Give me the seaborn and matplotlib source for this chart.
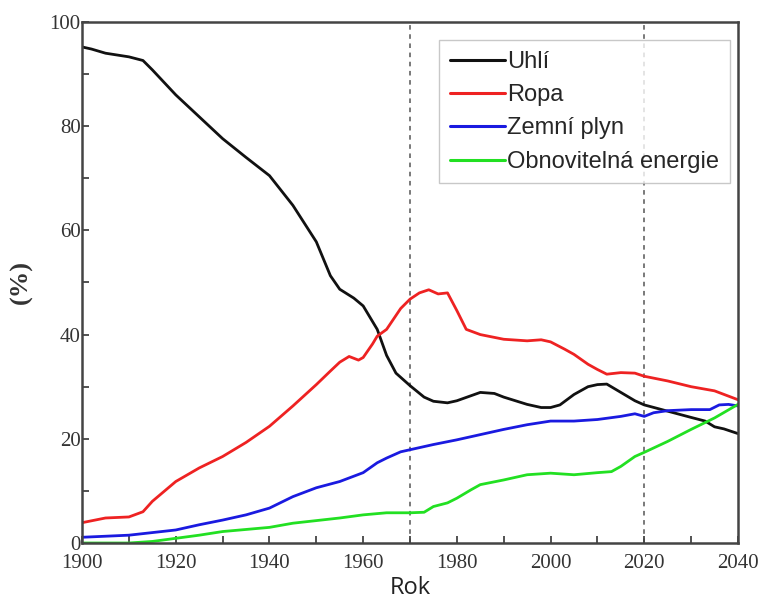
import numpy as np
import pandas as pd
import matplotlib
matplotlib.use("Agg")
import matplotlib.pyplot as plt
import seaborn as sns
from matplotlib.ticker import MultipleLocator

# --- data ---
coal_years = [1900, 1902, 1905, 1910, 1913, 1915, 1920, 1925, 1930, 1935, 1940, 1945, 1950, 1953,
              1955, 1958, 1960, 1963, 1965, 1967, 1970, 1973, 1975, 1978, 1980, 1985, 1988, 1990,
              1995, 1998, 2000, 2002, 2005, 2008, 2010, 2012, 2015, 2018, 2020, 2025, 2030, 2033,
              2035, 2037, 2040]
coal_vals = [95.2, 94.8, 94.0, 93.3, 92.6, 90.8, 86.0, 81.8, 77.6, 74.0, 70.5, 64.8, 57.8, 51.3,
             48.7, 47.0, 45.5, 41.0, 36.0, 32.6, 30.2, 28.0, 27.2, 26.9, 27.3, 28.9, 28.7, 28.0,
             26.6, 26.0, 26.0, 26.5, 28.5, 30.0, 30.4, 30.5, 28.9, 27.3, 26.5, 25.3, 24.1, 23.4,
             22.3, 21.9, 21.0]

oil_years = [1900, 1905, 1910, 1913, 1915, 1920, 1925, 1930, 1935, 1940, 1945, 1950, 1953, 1955,
             1957, 1959, 1960, 1962, 1963, 1965, 1968, 1970, 1972, 1974, 1976, 1978, 1980, 1982,
             1985, 1990, 1995, 1998, 2000, 2003, 2005, 2008, 2010, 2012, 2015, 2018, 2020, 2025,
             2030, 2035, 2040]
oil_vals = [3.9, 4.8, 5.0, 6.0, 8.0, 11.8, 14.4, 16.6, 19.3, 22.4, 26.3, 30.4, 33.0, 34.7,
            35.8, 35.1, 35.6, 38.2, 39.7, 41.0, 45.0, 46.8, 48.0, 48.6, 47.8, 48.0, 44.6, 41.0,
            40.0, 39.1, 38.8, 39.0, 38.6, 37.2, 36.2, 34.3, 33.3, 32.4, 32.7, 32.6, 32.0, 31.1,
            30.0, 29.2, 27.5]

gas_years = [1900, 1910, 1915, 1920, 1925, 1930, 1935, 1940, 1945, 1950, 1955, 1960, 1963, 1965,
             1968, 1970, 1975, 1980, 1985, 1990, 1995, 2000, 2005, 2010, 2015, 2018, 2020, 2022,
             2025, 2030, 2034, 2036, 2038, 2040]
gas_vals = [1.1, 1.5, 2.0, 2.5, 3.5, 4.4, 5.4, 6.7, 8.9, 10.6, 11.8, 13.5, 15.4, 16.3,
            17.5, 17.9, 18.9, 19.8, 20.8, 21.8, 22.7, 23.4, 23.4, 23.7, 24.3, 24.8, 24.3, 25.0,
            25.4, 25.6, 25.6, 26.5, 26.6, 26.3]

ren_years = [1900, 1910, 1915, 1920, 1925, 1930, 1935, 1940, 1945, 1950, 1955, 1960, 1965, 1970,
             1973, 1975, 1978, 1980, 1983, 1985, 1990, 1995, 2000, 2005, 2010, 2013, 2015, 2018,
             2020, 2025, 2030, 2035, 2040]
ren_vals = [0.0, 0.0, 0.3, 0.9, 1.5, 2.2, 2.6, 3.0, 3.8, 4.3, 4.8, 5.4, 5.8, 5.8,
            5.9, 7.0, 7.7, 8.6, 10.2, 11.2, 12.1, 13.1, 13.4, 13.1, 13.5, 13.7, 14.7, 16.6,
            17.4, 19.5, 21.8, 24.0, 26.6]

series_names = ["Uhlí", "Ropa", "Zemní plyn", "Obnovitelná energie"]
series_colors = ["#111111", "#ee2222", "#1a1ae0", "#22e022"]
x_ticks = [1900, 1920, 1940, 1960, 1980, 2000, 2020, 2040]
y_ticks = [0, 20, 40, 60, 80, 100]
marker_years = [1970, 2020]

frames = []
for name, yrs, vals in zip(series_names,
                           [coal_years, oil_years, gas_years, ren_years],
                           [coal_vals, oil_vals, gas_vals, ren_vals]):
    frames.append(pd.DataFrame({"Rok": yrs, "val": vals, "series": name}))
df = pd.concat(frames, ignore_index=True)

sns.set_style("ticks")
plt.rcParams["font.family"] = ["Liberation Sans", "DejaVu Sans"]

fig = plt.figure(figsize=(7.6, 6.01), dpi=100)
ax = fig.add_axes([0.108, 0.0965, 0.863, 0.867])

sns.lineplot(data=df, x="Rok", y="val", hue="series", hue_order=series_names,
             palette=series_colors, linewidth=2.0, ax=ax, legend=True)

for yr in marker_years:
    ax.axvline(yr, color="#555555", linestyle=(0, (3, 3)), linewidth=1.1, zorder=0)

ax.set_xlim(1900, 2040)
ax.set_ylim(0, 100)
ax.set_xticks(x_ticks)
ax.set_yticks(y_ticks)
ax.xaxis.set_minor_locator(MultipleLocator(10))
ax.yaxis.set_minor_locator(MultipleLocator(10))
ax.tick_params(which="both", direction="in", length=5, width=1.3, color="#444444",
               top=False, right=False)
ax.tick_params(axis="x", which="major", labelsize=15, pad=8)
ax.tick_params(axis="y", which="major", labelsize=15, pad=1)
for lab in ax.get_xticklabels() + ax.get_yticklabels():
    lab.set_fontfamily("Liberation Serif")
    lab.set_color("#333333")
for sp in ax.spines.values():
    sp.set_linewidth(1.8)
    sp.set_color("#444444")

ax.set_xlabel("Rok", fontsize=17, color="#222222", fontfamily="Open Sans", labelpad=2)
ax.set_ylabel("(%)", fontsize=19, fontweight="bold", fontfamily="Liberation Serif",
              color="#333333", labelpad=12)

leg = ax.legend(loc="upper right", bbox_to_anchor=(0.988, 0.965), fontsize=17,
                handlelength=2.35, handletextpad=0.1, labelspacing=0.48,
                borderpad=0.45, borderaxespad=0, frameon=True, fancybox=False)
leg.get_frame().set_edgecolor("#bbbbbb")
leg.get_frame().set_linewidth(1.0)
for line in leg.get_lines():
    line.set_linewidth(2.2)

fig.savefig("out.png", dpi=100)
